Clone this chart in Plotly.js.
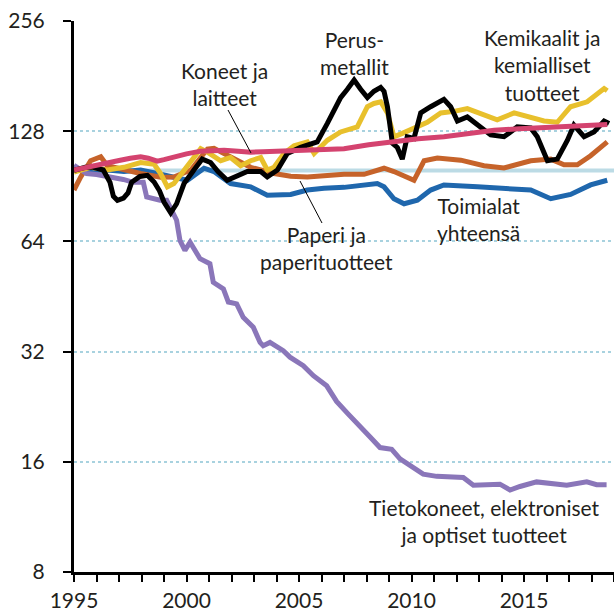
<!DOCTYPE html>
<html><head><meta charset="utf-8">
<script src="https://cdn.plot.ly/plotly-3.0.1.min.js"></script>
<style>body{margin:0;background:#fff}#c{width:614px;height:613px}</style>
</head><body><div id="c"></div>
<script>
// ---- data (index, 1995 = 100, log2 scale) ----
const yTicks = [8, 16, 32, 64, 128, 256];
const refX = [1995, 2019];
const refY = [100, 100];

const koneetX = [1995.0,1995.5,1996.0,1996.5,1997.0,1997.5,1997.96,1998.3,1998.7,1999.0,1999.44,2000.0,2000.63,2001.2,2001.67,2002.3,2002.85,2003.4,2003.89,2004.6,2005.37,2006.2,2007.0,2008.1,2009.22,2010.3,2011.44,2012.5,2013.67,2014.8,2015.89,2017.3,2018.7];
const koneetY = [100.3,102,103.5,104.9,106.5,108,108.9,108,106.0,107,108.9,111,112.9,113.5,113.6,112.8,112.2,112.5,112.9,113.5,114.1,114.3,114.6,117.5,120.1,122,123.6,126,128.8,130,131.0,132.3,133.5];

const yhtX = [1995.0,1996.48,1997.22,1997.96,1998.7,1999.44,2000.04,2000.78,2001.22,2001.96,2002.85,2003.59,2004.63,2005.37,2006.11,2007.0,2007.74,2008.48,2008.78,2009.22,2009.67,2010.26,2010.85,2011.44,2012.93,2014.11,2015.3,2016.19,2017.07,2017.96,2018.7];
const yhtY = [100,100.3,99.3,100.3,98.1,96.0,94.0,101.4,99.3,92.1,90.2,85.5,86.0,88.4,89.4,89.9,91.3,92.1,90.2,83.7,81.1,82.9,88.4,91.3,90.2,89.4,88.4,83.7,86.0,91.3,94.0];

const paperiX = [1995.0,1995.3,1995.74,1996.19,1996.48,1997.22,1997.96,1998.85,1999.44,2000.19,2000.93,2001.22,2001.96,2002.41,2002.85,2003.89,2004.63,2005.37,2006.11,2007.0,2007.89,2008.78,2009.22,2010.11,2010.56,2011.15,2012.19,2013.22,2014.11,2015.3,2016.19,2016.78,2017.37,2017.96,2018.7];
const paperiY = [88.4,96.0,106.3,109.0,103.0,100.3,98.1,95.8,96.0,100.3,114.4,115.0,108.5,105.1,102.0,98.1,96.4,96.0,97.0,97.6,97.6,101.4,99.3,94.0,106.3,108.1,106.7,103.0,101.6,106.3,107.4,103.6,103.6,109.7,119.7];

const kemX = [1995.0,1995.74,1996.48,1997.22,1997.96,1998.56,1998.85,1999.15,1999.44,1999.89,2000.33,2000.63,2000.93,2001.52,2001.96,2002.41,2002.85,2003.3,2003.59,2003.89,2004.33,2004.78,2005.37,2005.67,2006.26,2006.85,2007.59,2008.04,2008.33,2008.63,2008.93,2009.22,2009.59,2010.11,2010.7,2011.3,2011.89,2012.48,2013.22,2013.81,2014.56,2015.3,2015.89,2016.48,2017.07,2017.81,2018.26,2018.56,2018.7];
const kemY = [99,102.0,100.3,102.0,105.1,104.0,98.1,90.2,92.1,100.3,109.7,114.7,112.2,106.3,108.5,103.0,106.3,108.5,100.3,102.0,111.3,116.7,119.7,111.3,120.9,127.4,131.5,149.3,152.4,154.0,143.6,123.6,126.3,130.6,135.4,143.6,145.0,147.6,141.5,137.5,143.6,140.0,136.5,135.4,149.3,154.0,162.3,167.4,165];

const metX = [1995.0,1995.5,1995.86,1996.3,1996.6,1996.75,1996.93,1997.2,1997.4,1997.56,1997.93,1998.26,1998.56,1998.8,1999.0,1999.3,1999.56,1999.89,2000.33,2000.7,2001.07,2001.4,2001.81,2002.26,2002.7,2003.3,2003.59,2004.04,2004.48,2005.07,2005.81,2006.26,2006.85,2007.15,2007.45,2007.74,2008.04,2008.33,2008.63,2008.78,2008.93,2009.15,2009.37,2009.59,2009.81,2010.11,2010.41,2010.85,2011.44,2011.74,2012.04,2012.48,2013.07,2013.52,2014.11,2014.7,2015.3,2015.59,2016.04,2016.48,2016.93,2017.22,2017.67,2018.11,2018.56,2018.78];
const metY = [100,102,102.0,100.3,92.8,85.0,82.9,84.0,86.8,92.8,96.3,97.0,93.0,88,82.0,76.6,81.1,92.1,100.3,107.4,105.1,99.3,94.0,96.5,99.3,99.3,96.0,100.3,111.3,115.6,119.7,134.4,158.1,166.6,176.5,166.6,158.1,164.5,168.6,164.5,149.3,118.7,115.6,107.4,123.6,122.3,143.6,149.3,156.4,149.3,136.5,140.0,130.6,125.0,123.6,131.5,130.6,123.6,106.3,107.4,120.9,133.0,123.6,127.4,136.5,134.4];

const tietoX = [1995.0,1995.3,1995.56,1996.0,1996.6,1997.19,1997.64,1998.08,1998.23,1998.82,1999.12,1999.34,1999.56,1999.71,1999.93,2000.16,2000.38,2000.6,2001.04,2001.19,2001.64,2001.86,2002.23,2002.52,2002.97,2003.27,2003.41,2003.71,2004.3,2004.6,2005.19,2005.64,2006.23,2006.67,2007.19,2007.71,2008.16,2008.6,2009.12,2009.49,2009.93,2010.52,2011.12,2011.56,2011.86,2012.3,2012.75,2013.34,2013.93,2014.38,2014.82,2015.56,2016.3,2016.9,2017.79,2018.23,2018.67];
const tietoY = [103.3,100,98.1,97.5,96.3,94.5,92.8,92.8,84.6,82.9,82.9,78,73.1,64.4,60.5,63.7,60.5,57.4,55.6,49.5,47.5,43.7,43.2,39.7,37.3,33.9,33.2,33.9,32.2,30.9,29.3,27.5,25.8,23.4,21.6,20.1,18.7,17.5,17.3,16.3,15.6,14.8,14.6,14.6,14.5,14.5,13.8,13.8,13.9,13.4,13.7,14.1,13.9,13.8,14.1,13.85,13.85];

// ---- layout helpers (pixel -> paper) ----
const L = 74, R = 614, T = 21, B = 572;
const px = x => (x - L) / (R - L);
const py = y => (B - y) / (B - T);
const FONT = 'Lato, "Open Sans", sans-serif';
const TXT = '#231f20';

function tr(x, y, color, w) {
  return {x: x, y: y, type: 'scatter', mode: 'lines', hoverinfo: 'skip',
          line: {color: color, width: w || 5}, showlegend: false};
}
const data = [
  tr(refX, refY, '#bcdbe5', 4),
  tr(yhtX, yhtY, '#1f67ad'),
  tr(paperiX, paperiY, '#c6632a'),
  tr(tietoX, tietoY, '#8a76b9'),
  tr(kemX, kemY, '#e8c02c'),
  tr(metX, metY, '#000000'),
  tr(koneetX, koneetY, '#d4436f')
];

// label text, centre x, centre y (pixels)
const labels = [
  ['Koneet ja<br>laitteet', 224, 84],
  ['Perus-<br>metallit', 354, 53],
  ['Kemikaalit ja<br>kemialliset<br>tuotteet', 542, 65],
  ['Paperi ja<br>paperituotteet', 326, 248],
  ['Toimialat<br>yhteensä', 478, 219],
  ['Tietokoneet, elektroniset<br>ja optiset tuotteet', 484, 521]
];
const annotations = labels.map(l => ({
  text: l[0], xref: 'paper', yref: 'paper', x: px(l[1]), y: py(l[2]),
  xanchor: 'center', yanchor: 'middle', showarrow: false, align: 'center',
  borderpad: 0,
  font: {family: FONT, size: 21, color: TXT}
}));
const shapes = [
  {type: 'line', xref: 'paper', yref: 'paper', x0: px(228), y0: py(110), x1: px(251), y1: py(153), line: {color: '#000', width: 1}},
  {type: 'line', xref: 'paper', yref: 'paper', x0: px(300), y0: py(181), x1: px(322), y1: py(223), line: {color: '#000', width: 1}}
];

const layout = {
  width: 614, height: 613,
  margin: {l: L, r: 614 - R, t: T, b: 613 - B, pad: 0},
  paper_bgcolor: '#fff', plot_bgcolor: '#fff',
  showlegend: false,
  font: {family: FONT, size: 21, color: TXT},
  xaxis: {
    range: [1995, 2019], tickmode: 'linear', tick0: 1995, dtick: 5,
    ticks: 'outside', ticklen: 7, tickwidth: 2, tickcolor: '#000',
    minor: {dtick: 1, tick0: 1995, ticks: 'outside', ticklen: 7, tickwidth: 2, tickcolor: '#000', showgrid: false},
    showline: true, linecolor: '#000', linewidth: 3, showgrid: false, zeroline: false,
    tickfont: {family: FONT, size: 21, color: TXT}, ticklabelstandoff: 1
  },
  yaxis: {
    type: 'log', range: [Math.log10(8), Math.log10(256)],
    tickmode: 'array', tickvals: yTicks, ticktext: yTicks.map(String),
    ticks: 'outside', ticklen: 8, tickwidth: 2, tickcolor: '#000',
    showline: true, linecolor: '#000', linewidth: 3,
    showgrid: true, gridcolor: '#a8d2df', gridwidth: 2, griddash: 'dot',
    zeroline: false, tickfont: {family: FONT, size: 21, color: TXT}, ticklabelstandoff: 14
  },
  annotations: annotations, shapes: shapes
};
Plotly.newPlot('c', data, layout, {staticPlot: true, displayModeBar: false});
</script></body></html>
